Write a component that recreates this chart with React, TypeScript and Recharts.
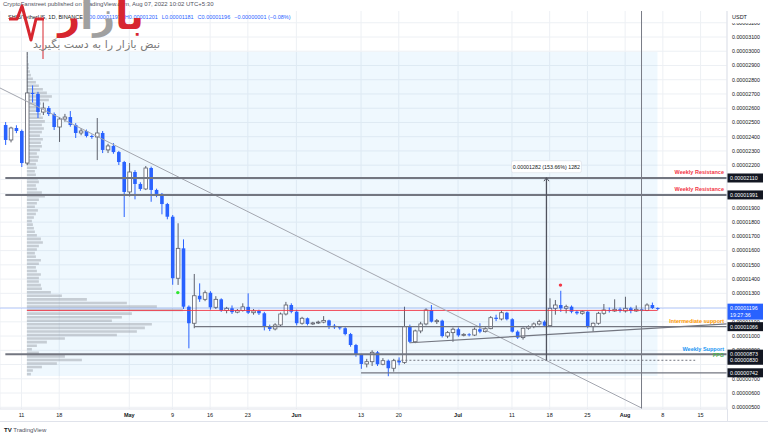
import React from 'react';
import {
  ComposedChart,
  Bar,
  XAxis,
  YAxis,
  CartesianGrid,
  ReferenceLine,
  ReferenceArea,
  ReferenceDot,
} from 'recharts';

// all prices are in units of 0.00000001 USDT
// candles: [open, high, low, close], one per day, first one is Apr 8 (day -3, Apr 11 = day 0)
const aprilCandles = [
  [2482, 2503, 2342, 2377], [2377, 2470, 2360, 2461], [2461, 2480, 2425, 2440], [2440, 2450, 2187, 2215],
  [2215, 2995, 2200, 2707], [2707, 2760, 2640, 2700], [2700, 2715, 2531, 2573], [2573, 2640, 2552, 2601],
  [2601, 2615, 2545, 2559], [2559, 2570, 2447, 2468], [2468, 2538, 2363, 2524], [2524, 2560, 2505, 2538],
  [2538, 2580, 2470, 2482], [2482, 2495, 2391, 2426], [2426, 2460, 2410, 2440], [2440, 2450, 2395, 2405],
  [2405, 2415, 2385, 2398], [2398, 2531, 2236, 2426], [2426, 2440, 2285, 2307], [2307, 2350, 2285, 2335],
  [2335, 2355, 2280, 2292], [2292, 2300, 2201, 2222], [2222, 2230, 1836, 2012],
];
const mayCandles = [
  [2012, 2215, 1980, 2152], [2152, 2165, 1960, 2068], [2068, 2080, 2020, 2033], [2033, 2194, 2025, 2180],
  [2180, 2190, 1943, 2026], [2026, 2035, 1975, 1998], [1998, 2005, 1855, 1927], [1927, 1935, 1820, 1838],
  [1838, 1850, 1360, 1406], [1406, 1792, 1359, 1616], [1616, 1679, 1190, 1206], [1206, 1215, 914, 1090],
  [1090, 1436, 1055, 1283], [1283, 1370, 1240, 1258], [1258, 1320, 1245, 1304], [1304, 1315, 1185, 1202],
  [1202, 1280, 1190, 1258], [1258, 1265, 1170, 1180], [1180, 1205, 1160, 1195], [1195, 1215, 1155, 1168],
  [1168, 1190, 1160, 1180], [1180, 1230, 1172, 1205], [1205, 1300, 1155, 1164], [1164, 1190, 1150, 1176],
  [1176, 1185, 1148, 1160], [1160, 1170, 1040, 1066], [1066, 1080, 1035, 1050], [1050, 1090, 1040, 1078],
  [1078, 1165, 1070, 1155], [1155, 1240, 1145, 1218], [1218, 1230, 1160, 1171],
];
const juneCandles = [
  [1171, 1185, 1075, 1090], [1090, 1135, 1080, 1125], [1125, 1130, 1075, 1085], [1085, 1100, 1078, 1092],
  [1092, 1108, 1085, 1098], [1098, 1140, 1090, 1110], [1110, 1115, 1050, 1073], [1073, 1085, 1050, 1062],
  [1062, 1070, 1045, 1055], [1055, 1062, 1005, 1014], [1014, 1022, 925, 937], [937, 945, 855, 867],
  [867, 875, 770, 804], [804, 840, 780, 820], [820, 900, 790, 886], [886, 895, 790, 802],
  [802, 845, 795, 827], [827, 835, 718, 774], [774, 840, 750, 827], [827, 850, 795, 815],
  [815, 1206, 805, 1066], [1066, 1080, 950, 960], [960, 1045, 950, 1036], [1036, 1100, 1020, 1085],
  [1085, 1195, 1075, 1183], [1183, 1218, 1095, 1101], [1101, 1120, 1085, 1108], [1108, 1115, 990, 1000],
  [1000, 1035, 985, 1024], [1024, 1060, 960, 1048],
];
const julyCandles = [
  [1048, 1060, 995, 1005], [1005, 1020, 998, 1012], [1012, 1020, 998, 1007], [1007, 1060, 1000, 1048],
  [1048, 1090, 1020, 1031], [1031, 1062, 1025, 1052], [1052, 1140, 1048, 1129], [1129, 1150, 1105, 1120],
  [1120, 1180, 1110, 1164], [1164, 1170, 1110, 1118], [1118, 1125, 1025, 1031], [1031, 1040, 980, 989],
  [989, 1060, 975, 1055], [1055, 1075, 1045, 1066], [1066, 1095, 1055, 1085], [1085, 1115, 1075, 1101],
  [1101, 1110, 1065, 1073], [1073, 1265, 1065, 1195], [1195, 1253, 1150, 1218], [1218, 1318, 1170, 1195],
  [1195, 1220, 1160, 1206], [1206, 1215, 1160, 1171], [1171, 1180, 1150, 1160], [1160, 1180, 1150, 1171],
  [1171, 1175, 1055, 1066], [1066, 1095, 1031, 1090], [1090, 1170, 1080, 1160], [1160, 1225, 1150, 1183],
  [1183, 1200, 1165, 1176], [1176, 1258, 1170, 1188], [1188, 1200, 1165, 1176],
];
const augustCandles = [
  [1176, 1276, 1165, 1195], [1195, 1205, 1160, 1176], [1176, 1215, 1170, 1188], [1188, 1200, 1170, 1180],
  [1180, 1230, 1175, 1218], [1218, 1235, 1190, 1197], [1197, 1201, 1181, 1196],
];
const firstDay = -3;

// time axis
const dayTicks = [0, 7, 20, 28, 35, 42, 51, 63, 70, 81, 91, 98, 105, 112, 119, 126];
const dayLabels = ['11', '18', 'May', '9', '16', '23', 'Jun', '13', '20', 'Jul', '11', '18', '25', 'Aug', '8', '15'];

// price axis
const priceTicks = [500, 600, 700, 900, 1000, 1100, 1300, 1400, 1500, 1600, 1700, 1800, 1900,
  2200, 2300, 2400, 2500, 2600, 2700, 2800, 2900, 3000, 3100, 3200];
const gridPrices = [500, 600, 700, 800, 900, 1000, 1100, 1200, 1300, 1400, 1500, 1600, 1700, 1800, 1900,
  2000, 2100, 2200, 2300, 2400, 2500, 2600, 2700, 2800, 2900, 3000, 3100, 3200];

// fixed range volume profile (Apr 12 - Aug 7), rows of 25 from 720 upwards
const profileStart = 1;
const profileEnd = 118;
const profileLow = 720;
const profileHigh = 2995;
const profileStep = 25;
const profileVolumes = [
  4, 6, 15, 30, 55, 38, 12, 5, 10, 20, 38, 90, 110, 118, 125, 85, 95, 105, 156, 130,
  100, 60, 35, 24, 15, 14, 12, 12, 14, 10, 9, 12, 14, 9, 8, 10, 12, 16, 14, 10,
  8, 7, 6, 5, 7, 9, 11, 8, 10, 12, 18, 15, 10, 9, 12, 11, 9, 8, 10, 9,
  11, 12, 10, 13, 15, 14, 16, 13, 15, 17, 15, 18, 16, 14, 12, 10, 14, 22, 25, 20,
  16, 12, 9, 6, 4, 3, 2, 2, 1, 1, 1,
];
// how many days of the time axis one unit of profile volume spans
const profileDaysPerUnit = 0.1855;
const pocPrice = 1180;
const lastPrice = 1196;

// drawings
const weeklyResistance = [2110, 1991];
const weeklySupport = 873;
const fpgLevel = 830;
const intermediateSupport = 1066;
const rangeLowLevel = 742;
const downTrend = [[-3.99, 2742], [115.04, 495]];
const riseTrend = [[72.1, 953], [130.9, 1085]];
const measure = [97.4, 830, 2112];
const markerDay = 115.04;
const greenSignal = [29, 1305];
const redSignal = [100, 1358];

const FONT = '"Liberation Sans", Arial, sans-serif';
const PLOT_RIGHT = 727;
const LINE_GRAY = '#737680';

const candles = [...aprilCandles, ...mayCandles, ...juneCandles, ...julyCandles, ...augustCandles].map(
  ([o, h, l, c], i) => ({ d: firstDay + i, o, h, l, c, range: [l, h] }),
);

const profileRows = profileVolumes.map((v, k) => ({
  v,
  lo: profileLow + k * profileStep,
}));

const fmt = (v: number) => (v / 1e8).toFixed(8);

const Candle = (props: any) => {
  const { x, y, width, height, payload } = props;
  if (!payload) return null;
  const { o, h, l, c } = payload;
  const top = Math.min(y, y + height);
  const full = Math.abs(height);
  const k = h === l ? 0 : full / (h - l);
  const cx = x + width / 2;
  const bTop = top + (h - Math.max(o, c)) * k;
  const bBot = top + (h - Math.min(o, c)) * k;
  const up = c >= o;
  const col = up ? '#5d606b' : '#2962ff';
  return (
    <g>
      <line x1={cx} x2={cx} y1={top} y2={top + full} stroke={col} strokeWidth={1} />
      <rect
        x={cx - 1.8}
        y={bTop}
        width={3.6}
        height={Math.max(bBot - bTop, 0.9)}
        fill={up ? '#ffffff' : '#2962ff'}
        stroke={up ? col : 'none'}
        strokeWidth={0.8}
      />
    </g>
  );
};

const DateTick = (props: any) => {
  const { x, y, payload } = props;
  const label = dayLabels[dayTicks.indexOf(payload.value)] ?? '';
  const month = /[A-Za-z]/.test(label);
  return (
    <text x={x} y={y + 8} textAnchor="middle" fontSize={5.5} fontWeight={month ? 700 : 400} fill="#131722">
      {label}
    </text>
  );
};

const tag = (price: number, note?: { text: string; color: string }) => (props: any) => {
  const y = props.viewBox ? props.viewBox.y : 0;
  return (
    <g>
      {note && (
        <text x={PLOT_RIGHT - 3} y={y - 3.5} textAnchor="end" fontSize={5.5} fontWeight={700} fill={note.color}>
          {note.text}
        </text>
      )}
      <rect x={PLOT_RIGHT} y={y - 4.5} width={36} height={9} fill="#131722" />
      <text x={PLOT_RIGHT + 3} y={y + 2} fontSize={5.3} fill="#ffffff">
        {fmt(price)}
      </text>
    </g>
  );
};

const lastPriceTag = (props: any) => {
  const y = props.viewBox ? props.viewBox.y : 0;
  return (
    <g>
      <rect x={PLOT_RIGHT} y={y - 4.5} width={36} height={16} fill="#2962ff" />
      <text x={PLOT_RIGHT + 3} y={y + 2} fontSize={5.3} fill="#ffffff">
        {fmt(lastPrice)}
      </text>
      <text x={PLOT_RIGHT + 3} y={y + 9} fontSize={5.3} fill="#ffffff">
        19:27:36
      </text>
    </g>
  );
};

const measureLabel = (props: any) => {
  const vb = props.viewBox || { x: 0, y: 0 };
  const x = vb.x;
  const y = vb.y;
  return (
    <g>
      <path d={`M${x - 2.5},${y + 3.5} L${x},${y} L${x + 2.5},${y + 3.5}`} stroke="#50535e" strokeWidth={1} fill="none" />
      <rect x={x - 35} y={y - 17} width={70} height={12} rx={2} fill="#ffffff" stroke="#e0e3eb" strokeWidth={0.8} />
      <text x={x} y={y - 9} textAnchor="middle" fontSize={5.3} fill="#131722">
        0.00001282 (153.66%) 1282
      </text>
    </g>
  );
};

export default function App() {
  return (
    <div style={{ position: 'absolute', left: 0, top: 0, width: 768, height: 437, background: '#ffffff', overflow: 'hidden', fontFamily: FONT }}>
      <ComposedChart
        width={768}
        height={421}
        data={candles}
        margin={{ top: 11, right: 0, bottom: 0, left: 0 }}
        style={{ position: 'absolute', left: 0, top: 0, fontFamily: FONT }}
      >
        <CartesianGrid xAxisId="main" yAxisId="price" stroke="#edf0f4" horizontalValues={gridPrices} />
        <XAxis
          xAxisId="main"
          type="number"
          dataKey="d"
          domain={[-3.99, 130.9]}
          allowDataOverflow
          ticks={dayTicks}
          interval={0}
          tick={<DateTick />}
          tickLine={false}
          tickSize={0}
          tickMargin={0}
          height={12}
          axisLine={{ stroke: '#e0e3eb' }}
        />
        <YAxis
          yAxisId="price"
          orientation="right"
          type="number"
          domain={[487.8, 3282.6]}
          allowDataOverflow
          ticks={priceTicks}
          interval={0}
          tickFormatter={fmt}
          width={41}
          tickLine={false}
          tickSize={0}
          tickMargin={5}
          tick={{ fontSize: 5.3, fill: '#131722' }}
          axisLine={{ stroke: '#e0e3eb' }}
        />

        <ReferenceArea
          xAxisId="main"
          yAxisId="price"
          x1={profileStart}
          x2={profileEnd}
          y1={profileLow}
          y2={profileHigh}
          fill="#2196f3"
          fillOpacity={0.07}
          stroke="none"
          ifOverflow="visible"
        />
        {profileRows.map((r) => (
          <ReferenceArea
            key={r.lo}
            xAxisId="main"
            yAxisId="price"
            x1={profileStart}
            x2={profileStart + r.v * profileDaysPerUnit}
            y1={r.lo + 3.5}
            y2={r.lo + profileStep - 3.5}
            fill="#9598a1"
            fillOpacity={0.45}
            stroke="none"
            ifOverflow="visible"
          />
        ))}
        <ReferenceLine
          xAxisId="main"
          yAxisId="price"
          segment={[{ x: profileStart, y: pocPrice }, { x: profileEnd, y: pocPrice }]}
          stroke="#f23645"
          strokeWidth={0.9}
          ifOverflow="visible"
        />
        <ReferenceLine
          xAxisId="main"
          yAxisId="price"
          y={lastPrice}
          stroke="#2962ff"
          strokeOpacity={0.3}
          strokeWidth={1}
          ifOverflow="visible"
        />

        <Bar
          xAxisId="main"
          yAxisId="price"
          dataKey="range"
          barSize={4}
          shape={<Candle />}
          isAnimationActive={false}
        />

        <ReferenceLine
          xAxisId="main"
          yAxisId="price"
          segment={[{ x: downTrend[0][0], y: downTrend[0][1] }, { x: downTrend[1][0], y: downTrend[1][1] }]}
          stroke="#a3a6af"
          strokeWidth={1}
          ifOverflow="visible"
        />
        <ReferenceLine
          xAxisId="main"
          yAxisId="price"
          segment={[{ x: riseTrend[0][0], y: riseTrend[0][1] }, { x: riseTrend[1][0], y: riseTrend[1][1] }]}
          stroke={LINE_GRAY}
          strokeWidth={1.2}
          ifOverflow="visible"
        />
        {weeklyResistance.map((p) => (
          <ReferenceLine
            key={p}
            xAxisId="main"
            yAxisId="price"
            segment={[{ x: -3, y: p }, { x: 130.9, y: p }]}
            stroke={LINE_GRAY}
            strokeWidth={2}
            ifOverflow="visible"
            label={tag(p, { text: 'Weekly Resistance', color: '#f23645' })}
          />
        ))}
        <ReferenceLine
          xAxisId="main"
          yAxisId="price"
          segment={[{ x: 32, y: intermediateSupport }, { x: 130.9, y: intermediateSupport }]}
          stroke={LINE_GRAY}
          strokeWidth={1.3}
          ifOverflow="visible"
          label={tag(intermediateSupport, { text: 'Intermediate support', color: '#ff9800' })}
        />
        <ReferenceLine
          xAxisId="main"
          yAxisId="price"
          segment={[{ x: -3, y: weeklySupport }, { x: 130.9, y: weeklySupport }]}
          stroke={LINE_GRAY}
          strokeWidth={2}
          ifOverflow="visible"
          label={tag(weeklySupport, { text: 'Weekly Support', color: '#2196f3' })}
        />
        <ReferenceLine
          xAxisId="main"
          yAxisId="price"
          segment={[{ x: 69, y: fpgLevel }, { x: 125, y: fpgLevel }]}
          stroke={LINE_GRAY}
          strokeWidth={1}
          strokeDasharray="2 2"
          ifOverflow="visible"
          label={tag(fpgLevel, { text: 'FPG', color: '#4caf50' })}
        />
        <ReferenceLine
          xAxisId="main"
          yAxisId="price"
          segment={[{ x: 63, y: rangeLowLevel }, { x: 130.9, y: rangeLowLevel }]}
          stroke={LINE_GRAY}
          strokeWidth={1.3}
          ifOverflow="visible"
          label={tag(rangeLowLevel)}
        />
        <ReferenceLine
          xAxisId="main"
          yAxisId="price"
          segment={[{ x: measure[0], y: measure[1] }, { x: measure[0], y: measure[2] }]}
          stroke="#50535e"
          strokeWidth={1.3}
          ifOverflow="visible"
          label={measureLabel}
        />
        <ReferenceLine
          xAxisId="main"
          yAxisId="price"
          x={markerDay}
          stroke="#787b86"
          strokeWidth={1}
          ifOverflow="visible"
        />
        <ReferenceLine
          xAxisId="main"
          yAxisId="price"
          segment={[{ x: 130.9, y: lastPrice }, { x: 130.9, y: lastPrice }]}
          stroke="none"
          ifOverflow="visible"
          label={lastPriceTag}
        />
        <ReferenceDot xAxisId="main" yAxisId="price" x={greenSignal[0]} y={greenSignal[1]} r={1.7} fill="#2ee62e" stroke="none" />
        <ReferenceDot xAxisId="main" yAxisId="price" x={redSignal[0]} y={redSignal[1]} r={1.7} fill="#f23645" stroke="none" />
      </ComposedChart>

      {/* chrome around the chart */}
      <div style={{ position: 'absolute', left: 0, top: 421, width: 768, height: 1, background: '#e0e3eb' }} />
      <div style={{ position: 'absolute', left: 727, top: 409, width: 1, height: 12, background: '#e0e3eb' }} />
      <div style={{ position: 'absolute', left: 728, top: 11, width: 40, height: 12, background: '#ffffff', fontSize: 5.5, color: '#131722', paddingLeft: 4, boxSizing: 'border-box', lineHeight: '12px' }}>
        USDT
      </div>
      <div style={{ position: 'absolute', left: 3, top: 1, fontSize: 6, color: '#50535e', whiteSpace: 'nowrap' }}>
        CryptoFanstreet published on TradingView.com, Aug 07, 2022 10:02 UTC+5:30
      </div>
      <div style={{ position: 'absolute', left: 8, top: 14, fontSize: 5.5, color: '#131722', whiteSpace: 'nowrap' }}>
        <span>SHIB/TetherUS, 1D, BINANCE</span>
        <span style={{ color: '#2962ff', marginLeft: 5 }}>O0.00001197</span>
        <span style={{ color: '#2962ff', marginLeft: 4 }}>H0.00001201</span>
        <span style={{ color: '#2962ff', marginLeft: 4 }}>L0.00001181</span>
        <span style={{ color: '#2962ff', marginLeft: 4 }}>C0.00001196</span>
        <span style={{ color: '#2962ff', marginLeft: 4 }}>−0.00000001 (−0.08%)</span>
      </div>

      {/* watermark logo */}
      <svg style={{ position: 'absolute', left: 0, top: 0 }} width={60} height={62}>
        <polyline points="9,19 17,19 22,6 31,40 36,19 44,19" fill="none" stroke="#d7262f" strokeWidth={3} strokeLinejoin="round" />
        <line x1={43} y1={18} x2={43} y2={59} stroke="#d7262f" strokeWidth={1} />
      </svg>
      <div dir="rtl" style={{ position: 'absolute', left: 45, top: -6, width: 112, fontSize: 38, fontWeight: 700, lineHeight: '44px', fontFamily: '"DejaVu Sans"', textAlign: 'center', whiteSpace: 'nowrap' }}>
        <span style={{ color: '#d7262f' }}>با</span>
        <span style={{ color: '#a0a0a0' }}>زا</span>
        <span style={{ color: '#d7262f' }}>ر</span>
      </div>
      <div dir="rtl" style={{ position: 'absolute', left: 44, top: 38, width: 116, fontSize: 11, color: '#7a7a7a', fontFamily: '"DejaVu Sans"', textAlign: 'center', whiteSpace: 'nowrap' }}>
        نبض بازار را به دست بگیرید
      </div>

      <div style={{ position: 'absolute', left: 4, top: 427, fontSize: 6, color: '#50535e', whiteSpace: 'nowrap' }}>
        <b style={{ color: '#131722' }}>TV</b> TradingView
      </div>
    </div>
  );
}
